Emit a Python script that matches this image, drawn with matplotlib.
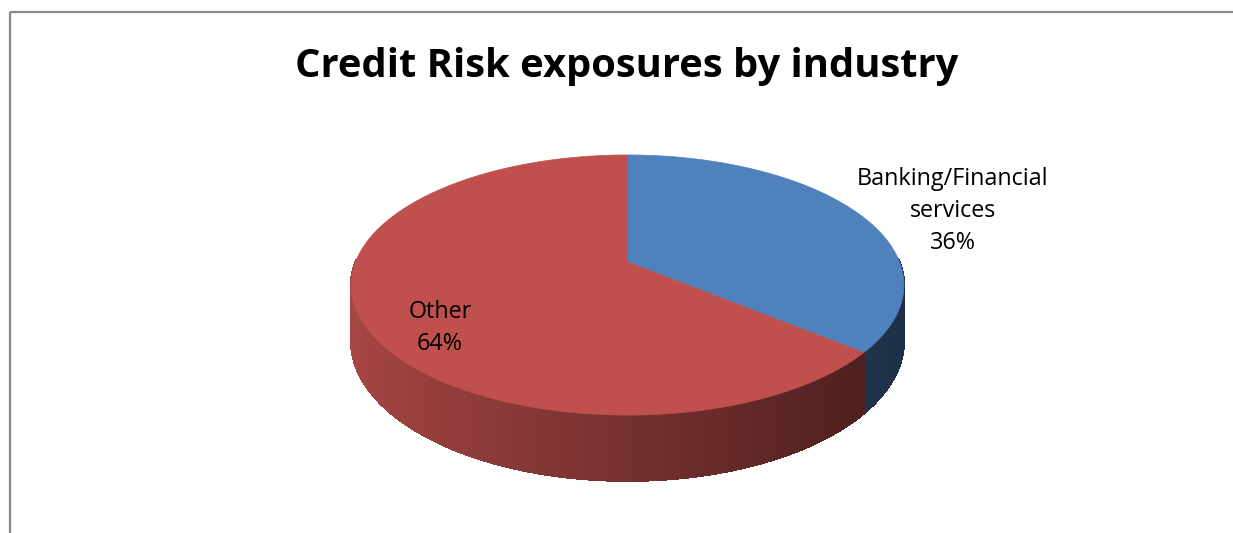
import numpy as np
import matplotlib
matplotlib.use("Agg")
import matplotlib.pyplot as plt
from matplotlib.collections import PolyCollection
from matplotlib.patches import Polygon

# ---- data ----
title = "Credit Risk exposures by industry"
categories = ["Banking/Financial\nservices", "Other"]
values = [36, 64]
colors = ["#4F81BD", "#C0504D"]

# ---- geometry (pixel space) ----
W, H = 1233, 533
cx, cy = 627.5, 262.0      # projected pie centre
A, B = 272.0, 126.0        # radii
k = 0.177                  # perspective factor
depth = 54.0               # thickness

fig = plt.figure(figsize=(W / 100, H / 100), dpi=100)
ax = fig.add_axes([0, 0, 1, 1])
ax.set_xlim(0, W)
ax.set_ylim(H, 0)
ax.axis("off")


def proj(t, z=0.0):
    u, v = np.cos(t), np.sin(t)
    s = 1.0 + k * v
    return cx + A * u / s, cy - B * v / s + z / s


fr = np.array(values, float) / sum(values)
starts = np.pi / 2 - np.concatenate([[0], np.cumsum(fr)[:-1]]) * 2 * np.pi
ends = starts - fr * 2 * np.pi

# side walls (front part only, v < 0)
polys, fcs = [], []
for st, en, col in zip(starts, ends, colors):
    base = np.array(matplotlib.colors.to_rgb(col))
    ts = np.linspace(st, en, 700)
    for i in range(len(ts) - 1):
        t0, t1 = ts[i], ts[i + 1]
        tm = 0.5 * (t0 + t1)
        if np.sin(tm) >= 0.02:
            continue
        x0, y0 = proj(t0)
        x1, y1 = proj(t1)
        x0b, y0b = proj(t0, depth)
        x1b, y1b = proj(t1, depth)
        u = np.cos(tm)
        shade = np.clip(0.61 - 0.27 * u, 0.38, 0.9)
        polys.append([(x0, y0), (x1, y1), (x1b, y1b), (x0b, y0b)])
        fcs.append(tuple(base * shade))
pc = PolyCollection(polys, facecolors=fcs, edgecolors=fcs, linewidths=1.0,
                    antialiased=False, zorder=2)
ax.add_collection(pc)

# top faces
for st, en, col in zip(starts, ends, colors):
    ts = np.linspace(st, en, 400)
    xs, ys = proj(ts)
    pts = [(cx, cy)] + list(zip(xs, ys))
    ax.add_patch(Polygon(pts, closed=True, facecolor=col, edgecolor=col,
                         linewidth=0.5, zorder=3))

# labels
label_pos = [(953, 211), (440, 328)]
for cat, val, (lx, ly) in zip(categories, values, label_pos):
    ax.text(lx, ly, f"{cat}\n{val}%", ha="center", va="center",
            fontsize=16.8, family="Open Sans", linespacing=1.47,
            color="black", zorder=5)

ax.text(627, 66, title, ha="center", va="center", fontsize=28.7,
        fontweight="bold", family="Open Sans", color="black")

# chart border (top and left visible)
ax.plot([9.5, W], [11.5, 11.5], color="#8A8A8A", lw=1.6, solid_capstyle="butt")
ax.plot([9.5, 9.5], [11.5, H], color="#8A8A8A", lw=1.6, solid_capstyle="butt")

fig.savefig("out.png", dpi=100, facecolor="white")
